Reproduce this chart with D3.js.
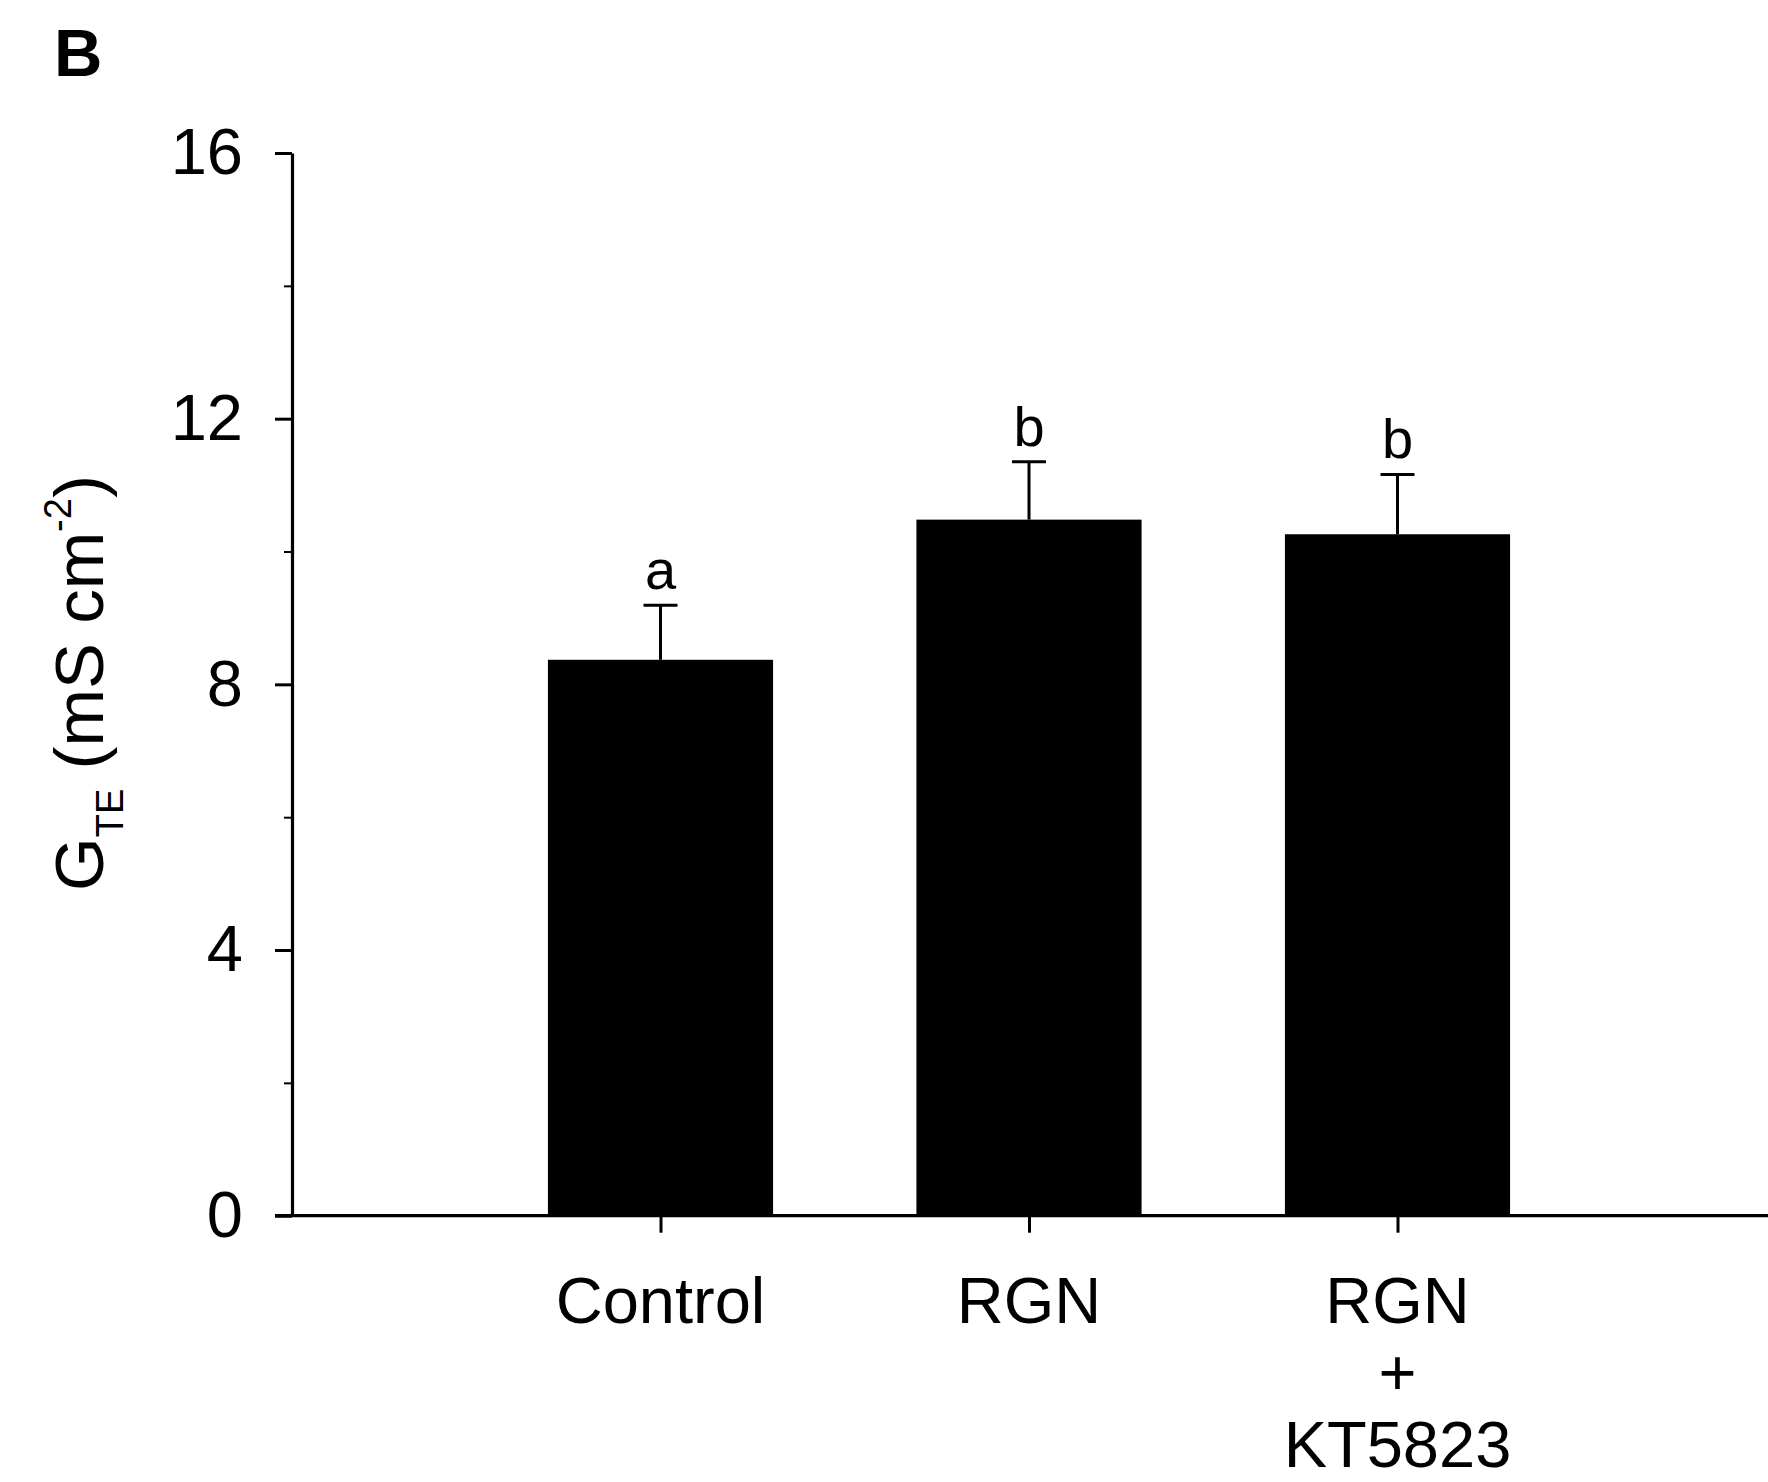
<!DOCTYPE html>
<html>
<head>
<meta charset="utf-8">
<script src="https://cdn.jsdelivr.net/npm/d3@7"></script>
<style>
  html, body { margin: 0; padding: 0; background: #fff; }
  svg { display: block; font-family: Arial, "Liberation Sans", sans-serif; }
</style>
</head>
<body>
<svg id="chart" width="1768" height="1482"></svg>
<script>
// Transepithelial conductance by treatment group
const groups = ["Control", "RGN", "RGN+KT5823"];
const groupLabelLines = [["Control"], ["RGN"], ["RGN", "+", "KT5823"]];
const means = [8.37, 10.48, 10.26];
const sems = [0.82, 0.87, 0.90];
const sigLetters = ["a", "b", "b"];
const majorTicks = [0, 4, 8, 12, 16];
const minorTicks = [2, 6, 10, 14];

const svg = d3.select("#chart");
const W = 1768;
const plotLeft = 292, plotRight = 1766, plotTop = 153, plotBottom = 1215.7;

// Bar positions are 1..3 on a 0..4 axis
const x = d3.scaleLinear().domain([0, 4]).range([plotLeft, plotRight]);
const y = d3.scaleLinear().domain([0, 16]).range([plotBottom, plotTop]);
const barW = x(0.611) - x(0);

const black = "#000";

// Panel letter
svg.append("text")
  .attr("x", 54).attr("y", 76)
  .attr("font-size", 67).attr("font-weight", "bold")
  .text("B");

// Bars
svg.append("g").selectAll("rect")
  .data(means)
  .join("rect")
  .attr("x", (d, i) => x(i + 1) - barW / 2)
  .attr("y", d => y(d))
  .attr("width", barW)
  .attr("height", d => y(0) - y(d))
  .attr("fill", black);

// Error bars (upper only)
const capW = 34;
const eb = svg.append("g").attr("stroke", black).attr("stroke-width", 3);
means.forEach((m, i) => {
  const cx = x(i + 1);
  eb.append("line").attr("x1", cx).attr("x2", cx).attr("y1", y(m)).attr("y2", y(m + sems[i]));
  eb.append("line").attr("x1", cx - capW / 2).attr("x2", cx + capW / 2)
    .attr("y1", y(m + sems[i])).attr("y2", y(m + sems[i]));
});

// Significance letters
svg.append("g").selectAll("text")
  .data(sigLetters)
  .join("text")
  .attr("x", (d, i) => x(i + 1))
  .attr("y", (d, i) => y(means[i] + sems[i]) - 16)
  .attr("text-anchor", "middle")
  .attr("font-size", 56)
  .text(d => d);

// Y axis: major ticks with labels
const yAxis = svg.append("g")
  .attr("transform", `translate(${plotLeft},0)`)
  .call(d3.axisLeft(y).tickValues(majorTicks).tickSize(17).tickSizeOuter(0).tickPadding(32).tickFormat(d3.format("d")));
yAxis.selectAll("text").attr("font-size", 65).attr("fill", black);
yAxis.attr("font-family", null);
yAxis.selectAll("line").attr("stroke", black).attr("stroke-width", 3);
yAxis.select(".domain").attr("stroke", black).attr("stroke-width", 3.2);

// Y axis: minor ticks
svg.append("g")
  .attr("transform", `translate(${plotLeft},0)`)
  .call(d3.axisLeft(y).tickValues(minorTicks).tickSize(8).tickSizeOuter(0).tickFormat(""))
  .call(g => g.select(".domain").remove())
  .selectAll("line").attr("stroke", black).attr("stroke-width", 2);

// X axis baseline runs from the outer tick to the page edge
svg.append("line")
  .attr("x1", plotLeft - 17).attr("x2", W)
  .attr("y1", y(0)).attr("y2", y(0))
  .attr("stroke", black).attr("stroke-width", 3.2);

// X axis ticks at each group
svg.append("g")
  .attr("transform", `translate(0,${y(0)})`)
  .call(d3.axisBottom(x).tickValues([1, 2, 3]).tickSize(17).tickSizeOuter(0).tickFormat(""))
  .call(g => g.select(".domain").remove())
  .selectAll("line").attr("stroke", black).attr("stroke-width", 3);

// Group labels (multi-line)
const labels = svg.append("g").attr("font-size", 65).attr("text-anchor", "middle");
groupLabelLines.forEach((lines, i) => {
  const t = labels.append("text").attr("x", x(i + 1)).attr("y", 1323);
  lines.forEach((ln, j) => {
    t.append("tspan").attr("x", x(i + 1)).attr("dy", j === 0 ? 0 : 72).text(ln);
  });
});

// Y axis title: G_TE (mS cm^-2)
const yt = svg.append("text")
  .attr("transform", "translate(103,683) rotate(-90)")
  .attr("text-anchor", "middle")
  .attr("font-size", 69);
yt.append("tspan").text("G");
yt.append("tspan").attr("font-size", 38).attr("dy", 20).text("TE");
yt.append("tspan").attr("dy", -20).text(" (mS cm");
yt.append("tspan").attr("font-size", 38).attr("dy", -32).text("-2");
yt.append("tspan").attr("dy", 32).text(")");
</script>
</body>
</html>
